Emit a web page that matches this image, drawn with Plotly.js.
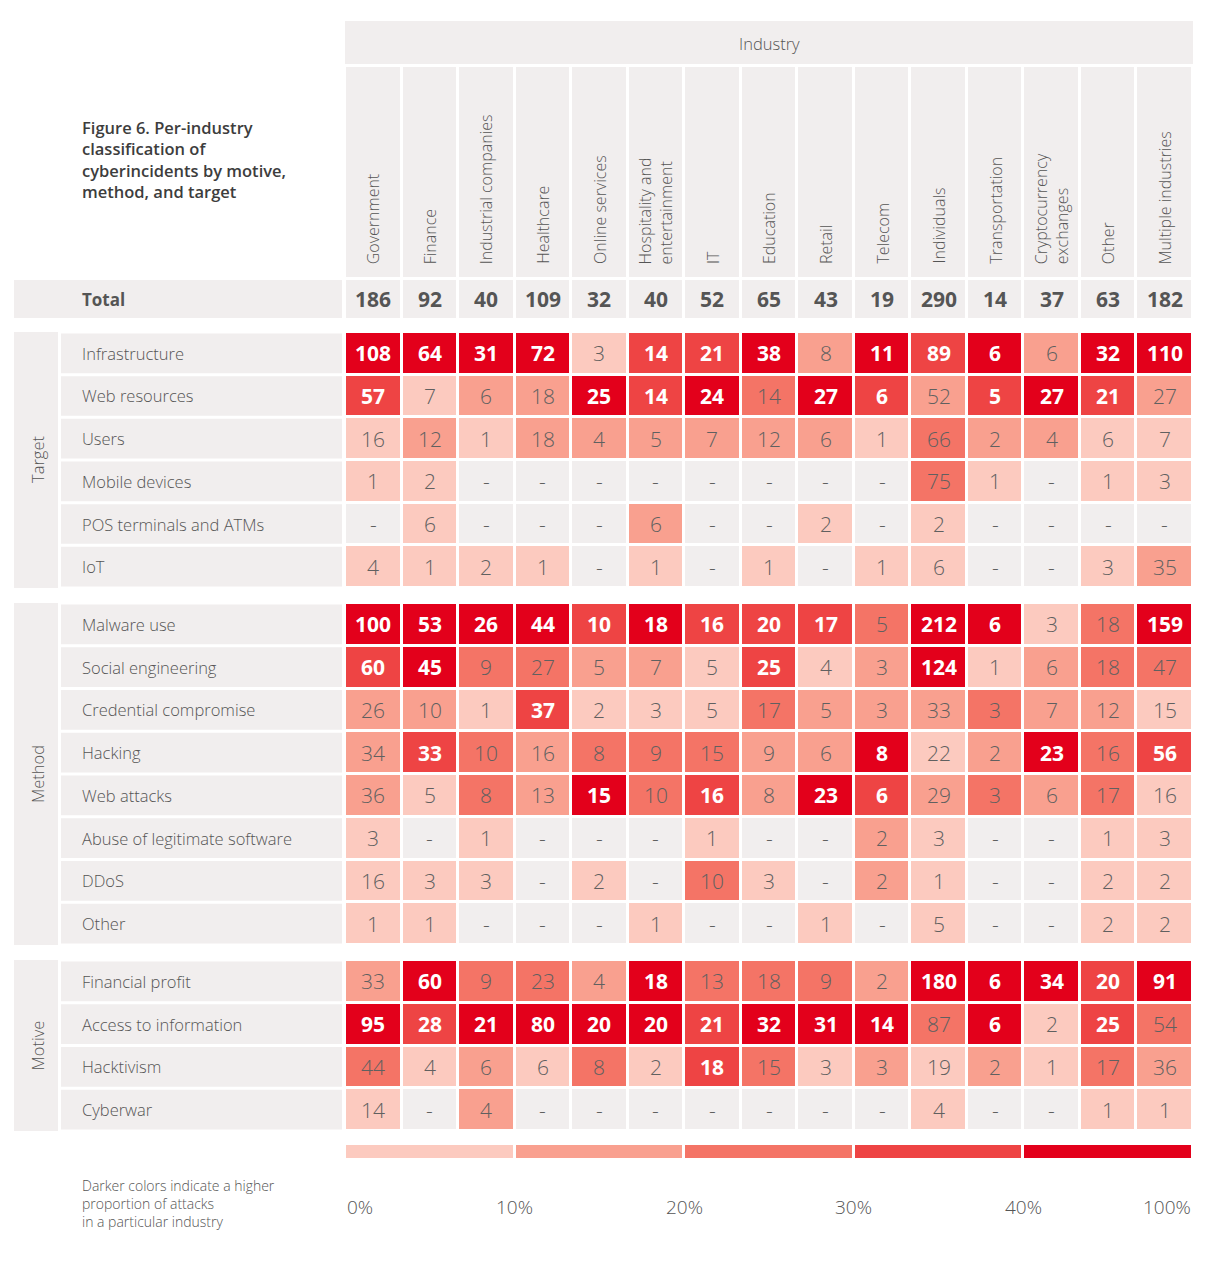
<!DOCTYPE html>
<html><head><meta charset="utf-8">
<script src="https://cdn.plot.ly/plotly-3.0.1.min.js"></script>
<style>html,body{margin:0;padding:0;background:#fff}</style>
</head><body><div id="chart" style="width:1210px;height:1261px"></div>
<script>
// ---------- DATA ----------
const industries = ['Government','Finance','Industrial companies','Healthcare','Online services','Hospitality and entertainment','IT','Education','Retail','Telecom','Individuals','Transportation','Cryptocurrency exchanges','Other','Multiple industries'];
const totals = [186,92,40,109,32,40,52,65,43,19,290,14,37,63,182];

const targetRows = ['Infrastructure','Web resources','Users','Mobile devices','POS terminals and ATMs','IoT'];
const targetValues = [
  [108,64,31,72,3,14,21,38,8,11,89,6,6,32,110],
  [57,7,6,18,25,14,24,14,27,6,52,5,27,21,27],
  [16,12,1,18,4,5,7,12,6,1,66,2,4,6,7],
  [1,2,null,null,null,null,null,null,null,null,75,1,null,1,3],
  [null,6,null,null,null,6,null,null,2,null,2,null,null,null,null],
  [4,1,2,1,null,1,null,1,null,1,6,null,null,3,35]
];
// shade band: 0 = none, 1 = <10%, 2 = 10-20%, 3 = 20-30%, 4 = 30-40%, 5 = 40-100%
const targetLevels = [
  [5,5,5,5,1,4,4,5,2,5,4,5,2,5,5],
  [4,1,2,2,5,4,5,3,5,4,2,4,5,4,2],
  [1,2,1,2,2,2,2,2,2,1,3,2,2,1,1],
  [1,1,0,0,0,0,0,0,0,0,3,1,0,1,1],
  [0,1,0,0,0,2,0,0,1,0,1,0,0,0,0],
  [1,1,1,1,0,1,0,1,0,1,1,0,0,1,2]
];

const methodRows = ['Malware use','Social engineering','Credential compromise','Hacking','Web attacks','Abuse of legitimate software','DDoS','Other'];
const methodValues = [
  [100,53,26,44,10,18,16,20,17,5,212,6,3,18,159],
  [60,45,9,27,5,7,5,25,4,3,124,1,6,18,47],
  [26,10,1,37,2,3,5,17,5,3,33,3,7,12,15],
  [34,33,10,16,8,9,15,9,6,8,22,2,23,16,56],
  [36,5,8,13,15,10,16,8,23,6,29,3,6,17,16],
  [3,null,1,null,null,null,1,null,null,2,3,null,null,1,3],
  [16,3,3,null,2,null,10,3,null,2,1,null,null,2,2],
  [1,1,null,null,null,1,null,null,1,null,5,null,null,2,2]
];
const methodLevels = [
  [5,5,5,5,4,5,4,4,4,3,5,5,1,3,5],
  [4,5,3,3,2,2,1,4,1,2,5,1,2,3,3],
  [2,2,1,4,1,1,1,3,2,2,2,3,2,2,1],
  [2,4,3,2,3,3,3,2,2,5,1,2,5,3,4],
  [2,1,3,2,5,3,4,2,5,4,2,3,2,3,1],
  [1,0,1,0,0,0,1,0,0,2,1,0,0,1,1],
  [1,1,1,0,1,0,3,1,0,2,1,0,0,1,1],
  [1,1,0,0,0,1,0,0,1,0,1,0,0,1,1]
];

const motiveRows = ['Financial profit','Access to information','Hacktivism','Cyberwar'];
const motiveValues = [
  [33,60,9,23,4,18,13,18,9,2,180,6,34,20,91],
  [95,28,21,80,20,20,21,32,31,14,87,6,2,25,54],
  [44,4,6,6,8,2,18,15,3,3,19,2,1,17,36],
  [14,null,4,null,null,null,null,null,null,null,4,null,null,1,1]
];
const motiveLevels = [
  [2,5,3,3,2,5,3,3,3,2,5,5,5,4,5],
  [5,4,5,5,5,5,4,5,5,5,3,5,1,4,3],
  [3,1,2,1,3,1,4,3,1,2,1,2,1,3,2],
  [1,0,2,0,0,0,0,0,0,0,1,0,0,1,1]
];

const groupNames = ['Target','Method','Motive'];
const legendBands = [1,2,3,4,5];
const legendTicks = ['0%','10%','20%','30%','40%','100%'];
const legendNote = 'Darker colors indicate a higher<br>proportion of attacks<br>in a particular industry';
const titleText = 'Figure 6. Per-industry<br>classification of<br>cyberincidents by motive,<br>method, and target';

// ---------- STYLE ----------
const W = 1210, H = 1261;
const px = x => x / W;
const py = y => 1 - y / H;
const FONT = 'Open Sans, Noto Sans, sans-serif';
const GREY = '#f1eeee';
const levelColors = [GREY,'#fccabf','#f9a08f','#f47466','#ee4444','#e3001b'];
const colorscale = [];
levelColors.forEach((c,k)=>{ colorscale.push([k/6,c]); colorscale.push([(k+1)/6,c]); });
const LABEL = '#555555';
const NUM_SHIFT = 0;

const groups = [
  {rows: targetRows, values: targetValues, levels: targetLevels, yax: 'y'},
  {rows: methodRows, values: methodValues, levels: methodLevels, yax: 'y2'},
  {rows: motiveRows, values: motiveValues, levels: motiveLevels, yax: 'y3'}
];

const traces = [];
const annotations = [];
const shapes = [];
const noHover = {hoverinfo: 'skip'};

// header row cells
traces.push(Object.assign({type:'heatmap', x: industries, y: ['h'], z: [industries.map(()=>0)],
  colorscale, zmin:-0.5, zmax:5.5, showscale:false, xgap:3, ygap:0, xaxis:'x', yaxis:'y5'}, noHover));
// total row cells
traces.push(Object.assign({type:'heatmap', x: industries, y: ['t'], z: [industries.map(()=>0)],
  colorscale, zmin:-0.5, zmax:5.5, showscale:false, xgap:3, ygap:0, xaxis:'x', yaxis:'y4'}, noHover));
industries.forEach((ind, ci) => {
  annotations.push({xref:'x', yref:'y4', x:ind, y:'t', xanchor:'center', yanchor:'middle', yshift:NUM_SHIFT,
    text:String(totals[ci]), showarrow:false, font:{family:FONT, size:21, color:LABEL, weight:700}});
});

groups.forEach((g, gi) => {
  traces.push(Object.assign({type:'heatmap', x: industries, y: g.rows, z: g.levels,
    colorscale, zmin:-0.5, zmax:5.5, showscale:false, xgap:3, ygap:3, xaxis:'x', yaxis:g.yax}, noHover));
  g.rows.forEach((r, ri) => {
    industries.forEach((ind, ci) => {
      const v = g.values[ri][ci];
      const lv = g.levels[ri][ci];
      const dark = v !== null && lv >= 4;
      annotations.push({xref:'x', yref:g.yax, x:ind, y:r, xanchor:'center', yanchor:'middle', yshift:NUM_SHIFT,
        text: v === null ? '-' : String(v), showarrow:false,
        font: dark ? {family:FONT, size:21, color:'#ffffff', weight:700}
                   : {family:FONT, size:21, color:'#606060', weight:300}});
    });
    // row label cell
    shapes.push({type:'rect', xref:'paper', yref:g.yax, x0:px(61), x1:px(342),
      y0: ri-0.5+0.035, y1: ri+0.5-0.035, fillcolor:GREY, line:{width:0}, layer:'below'});
    annotations.push({xref:'paper', yref:g.yax, x:px(80), y:r, xanchor:'left', yanchor:'middle',
      text:r, showarrow:false, font:{family:FONT, size:16.5, color:LABEL, weight:300}});
  });
  // group label cell
  shapes.push({type:'rect', xref:'paper', yref:g.yax+' domain', x0:px(14), x1:px(58), y0:0, y1:1,
    fillcolor:GREY, line:{width:0}, layer:'below'});
  annotations.push({xref:'paper', yref:g.yax+' domain', x:px(37), y:0.5, xanchor:'center', yanchor:'middle',
    text:groupNames[gi], textangle:-90, showarrow:false, font:{family:FONT, size:16.5, color:LABEL, weight:300}});
});

// header labels
const headerText = n => n === 'Hospitality and entertainment' ? 'Hospitality and<br>entertainment'
  : (n === 'Cryptocurrency exchanges' ? 'Cryptocurrency<br>exchanges' : n);
industries.forEach(ind => {
  annotations.push({xref:'x', yref:'y5 domain', x:ind, y:11/210, xanchor:'center', yanchor:'bottom',
    text:headerText(ind), textangle:-90, align:'left', showarrow:false,
    font:{family:FONT, size:16, color:LABEL, weight:300}});
});
// Industry band
shapes.push({type:'rect', xref:'paper', yref:'paper', x0:px(345), x1:px(1193), y0:py(64), y1:py(21),
  fillcolor:GREY, line:{width:0}, layer:'below'});
annotations.push({xref:'paper', yref:'paper', x:px(769), y:py(44), xanchor:'center', yanchor:'middle',
  text:'Industry', showarrow:false, font:{family:FONT, size:16.5, color:LABEL, weight:300}});
// Total label cell
shapes.push({type:'rect', xref:'paper', yref:'paper', x0:px(14), x1:px(342), y0:py(318), y1:py(280),
  fillcolor:GREY, line:{width:0}, layer:'below'});
annotations.push({xref:'paper', yref:'paper', x:px(80), y:py(299), xanchor:'left', yanchor:'middle',
  text:'Total', showarrow:false, font:{family:FONT, size:17, color:LABEL, weight:700}});
// Title
annotations.push({xref:'paper', yref:'paper', x:px(80), y:py(114), xanchor:'left', yanchor:'top', align:'left',
  text:titleText, showarrow:false, font:{family:FONT, size:16.5, color:'#3d3d3d', weight:600}});

// Legend
traces.push(Object.assign({type:'heatmap', x: legendBands.map((b,i)=>i), y:['l'], z:[legendBands],
  colorscale, zmin:-0.5, zmax:5.5, showscale:false, xgap:3, ygap:0, xaxis:'x2', yaxis:'y6'}, noHover));
legendTicks.forEach((t,i) => {
  annotations.push({xref:'x2', yref:'paper', x:i-0.5, y:py(1207), yanchor:'middle',
    xanchor: i===0 ? 'left' : (i===legendTicks.length-1 ? 'right' : 'center'),
    text:t, showarrow:false, font:{family:FONT, size:19, color:LABEL, weight:300}});
});
annotations.push({xref:'paper', yref:'paper', x:px(80), y:py(1203), xanchor:'left', yanchor:'middle', align:'left',
  text:legendNote, showarrow:false, font:{family:FONT, size:14, color:LABEL, weight:300}});

const hid = {showticklabels:false, showgrid:false, zeroline:false, showline:false, ticks:'', fixedrange:true};
const dom = (top,bottom) => [py(bottom), py(top)];
const layout = {
  width: W, height: H, margin:{l:0,r:0,t:0,b:0}, paper_bgcolor:'#fff', plot_bgcolor:'rgba(0,0,0,0)',
  showlegend:false,
  xaxis: Object.assign({domain:[px(345), px(1193)], range:[-0.5, 14.5], type:'category'}, hid),
  xaxis2: Object.assign({domain:[px(345), px(1193)], range:[-0.5, 4.5], anchor:'y6'}, hid),
  yaxis: Object.assign({domain:dom(332,588), range:[targetRows.length-0.5,-0.5], type:'category', anchor:'x'}, hid),
  yaxis2: Object.assign({domain:dom(603,945), range:[methodRows.length-0.5,-0.5], type:'category', anchor:'x'}, hid),
  yaxis3: Object.assign({domain:dom(960,1131), range:[motiveRows.length-0.5,-0.5], type:'category', anchor:'x'}, hid),
  yaxis4: Object.assign({domain:dom(280,318), range:[-0.5,0.5], type:'category', anchor:'x'}, hid),
  yaxis5: Object.assign({domain:dom(67,277), range:[-0.5,0.5], type:'category', anchor:'x'}, hid),
  yaxis6: Object.assign({domain:dom(1145,1158), range:[-0.5,0.5], type:'category', anchor:'x2'}, hid),
  shapes, annotations
};
Plotly.newPlot('chart', traces, layout, {displayModeBar:false, staticPlot:true});
</script></body></html>
